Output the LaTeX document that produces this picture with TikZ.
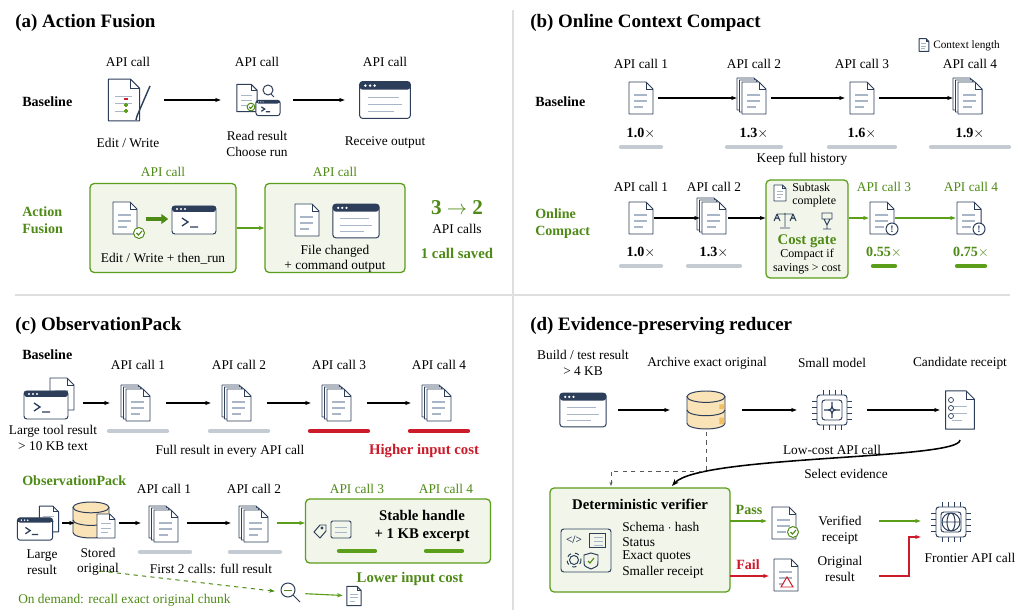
\documentclass[tikz,border=0pt]{standalone}
\usepackage{fontspec}
\setmainfont{Liberation Serif}
\usetikzlibrary{arrows.meta,shapes.geometric}
\definecolor{navy}{HTML}{2C3E5A}
\definecolor{gr}{HTML}{5A9E1A}
\definecolor{gt}{HTML}{4E8A16}
\definecolor{boxf}{HTML}{F2F6EA}
\definecolor{rd}{HTML}{CC1B2B}
\definecolor{bar}{HTML}{C5CBD3}
\definecolor{ln}{HTML}{A9B6C8}
\definecolor{dbf}{HTML}{FBE3B8}
\definecolor{dbo}{HTML}{F2BE62}
\tikzset{
 x=0.025cm,y=-0.025cm,
 t/.style={font=\fontsize{9.5}{11}\selectfont,align=center,inner sep=0},
 ttl/.style={font=\fontsize{13.5}{15}\selectfont\bfseries,anchor=west,inner sep=0},
 lab/.style={font=\fontsize{10}{12}\selectfont\bfseries,align=left,anchor=west,inner sep=0},
 ic/.style={minimum width=#1*0.7113pt,minimum height=21pt,inner sep=0},
 arr/.style={-{Stealth[length=4pt]},line width=0.8pt},
 garr/.style={arr,gr},
 rarr/.style={arr,rd},
 icon/.style={draw=navy,line width=0.7pt},
 barS/.style={line width=3pt,line cap=round},
 gbox/.style 2 args={draw=gr,fill=boxf,rounded corners=3pt,line width=0.9pt,minimum width=#1*0.7113pt,minimum height=#2*0.7113pt,inner sep=0},
 pics/doc/.style={code={
  \filldraw[icon,fill=white,line join=round] (-12,-16) -- (5,-16) -- (12,-9) -- (12,16) -- (-12,16) -- cycle;
  \draw[icon] (5,-16) -- (5,-9) -- (12,-9);
  \draw[ln,line width=0.8pt] (-7,-3)--(6,-3) (-7,3)--(6,3) (-7,9)--(2,9);}},
 pics/stack/.style={code={
  \pic at (-5,-4) {doc}; \pic at (-2.5,-2) {doc}; \pic at (0,0) {doc};}},
 pics/win/.style={code={
  \filldraw[icon,fill=white,rounded corners=2pt] (-22,-16) rectangle (22,16);
  \fill[navy,rounded corners=2pt] (-22,-16) rectangle (22,-9);
  \foreach \i in {-17,-13,-9}\fill[white] (\i,-12.5) circle (1.2);
  \draw[ln,line width=0.8pt] (-15,-2)--(12,-2) (-15,4)--(15,4) (-15,10)--(8,10);}},
 pics/term/.style={code={
  \filldraw[icon,fill=white,rounded corners=2pt] (-22,-14) rectangle (22,14);
  \fill[navy,rounded corners=2pt] (-22,-14) rectangle (22,-8);
  \foreach \i in {-17,-13,-9}\fill[white] (\i,-11) circle (1.1);
  \draw[navy,line width=0.9pt] (-12,-2)--(-6,2)--(-12,6) (-4,7)--(4,7);}},
 pics/db/.style={code={
  \filldraw[icon,fill=dbf] (-20,-14) -- (-20,14) arc[start angle=180,end angle=360,x radius=20,y radius=-6] -- (20,-14);
  \draw[icon] (-20,0) arc[start angle=180,end angle=360,x radius=20,y radius=-6];
  \filldraw[icon,fill=dbf] (0,-14) ellipse[x radius=20,y radius=6];
  \fill[dbo] (14,-6) rectangle (19,-1) (14,8) rectangle (19,15);}},
 pics/chip/.style={code={
  \foreach \i in {-9,-3,3,9}{\draw[icon] (\i,-20)--(\i,-15) (\i,15)--(\i,20) (-20,\i)--(-15,\i) (15,\i)--(20,\i);}
  \filldraw[icon,fill=white,rounded corners=2pt] (-15,-15) rectangle (15,15);
  \draw[icon,rounded corners=2pt] (-10,-10) rectangle (10,10);}},
 pics/chk/.style={code={\filldraw[draw=gt,fill=white,line width=0.7pt] (0,0) circle (5.5); \draw[gt,line width=0.8pt] (-2.5,0)--(-0.5,2)--(3,-2);}},
 pics/bang/.style={code={\filldraw[icon,fill=white] (0,0) circle (6); \node[font=\fontsize{7}{7}\selectfont\bfseries,text=navy,inner sep=0] at (0,0) {!};}},
}
\begin{document}
\begin{tikzpicture}
\useasboundingbox (0,0) rectangle (1028,616);
\fill[white] (0,0) rectangle (1028,616);
\draw[gray!25,line width=0.8pt] (15,295) -- (1010,295) (513,10) -- (513,610);

% ===== (a)
\node[ttl] (ta) at (15,23) {(a) Action Fusion};
\node[lab] (ab) at (22,102) {Baseline};
\foreach \x/\n in {128/1,257/2,385/3}{\node[t] (aapi\n) at (\x,62) {API call};}
\node[ic=72] (a1) at (128,100) {}; \pic[scale=1.3] at (124,100) {doc};
\draw[icon,line width=1pt] (137,116)--(150,86) (137,116)--(136,120); \draw[gr,line width=1pt] (124,105)--(128,105) (124,111)--(128,111) (126,103)--(126,107) (126,109)--(126,113); \draw[rd,line width=1pt] (124,99)--(128,99);
\node[ic=72] (a2) at (257,100) {}; \pic[scale=0.85] at (247,98) {doc}; \pic[scale=0.55] at (268,108) {term}; \draw[icon] (268,90) circle (5) (271,94)--(274,97); \pic[scale=0.7] at (251,107) {chk};
\node[ic=80] (a3) at (385,100) {}; \pic[scale=1.15] at (a3) {win};
\draw[arr] (a1) -- (a2); \draw[arr] (a2) -- (a3);
\node[t] at (128,143) {Edit / Write};
\node[t] at (257,144) {Read result\\Choose run};
\node[t] at (385,143) {Receive output};

\node[lab,text=gt] (af) at (22,220) {Action\\Fusion};
\node[gbox={146}{89}] (b1) at (163,228) {};
\node[gbox={140}{89}] (b2) at (335,228) {};
\node[t,text=gt] at (163,172) {API call}; \node[t,text=gt] at (335,172) {API call};
\draw[garr] (b1) -- (b2);
\pic at (125,218) {doc}; \pic at (139,233) {chk};
\node[ic=8] (fa) at (150,219) {}; \node[ic=8] (fb) at (164,219) {};
\draw[-{Triangle[length=5pt,width=7pt]},line width=2.2pt,gt] (fa.west) -- (fb.east);
\pic at (194,220) {term};
\pic at (307,220) {doc}; \pic[scale=1.05] at (356,221) {win};
\node[t] at (163,259) {Edit / Write + then\_run};
\node[t] at (335,259) {File changed\\+ command output};
\node[t,text=gt,font=\fontsize{15}{17}\selectfont\bfseries] at (457,208) {3 $\rightarrow$ 2};
\node[t] at (457,229) {API calls};
\node[t,text=gt,font=\fontsize{10.5}{12}\selectfont\bfseries] at (457,253) {1 call saved};

% ===== (b)
\node[ttl] (tb) at (530,23) {(b) Online Context Compact};
\pic[scale=0.4] at (924,45) {doc}; \node[t,anchor=west,font=\fontsize{8}{9}\selectfont] at (933,46) {Context length};
\node[lab] at (535,102) {Baseline};
\foreach \x/\n/\w/\s/\v in {641/1/20/doc/1.0,754/2/27/stack/1.3,862/3/33/doc/1.6,970/4/39/stack/1.9}{
 \node[t] at (\x,64) {API call \n};
 \node[ic=34] (bb\n) at (\x,98) {}; \pic at (bb\n) {\s};
 \node[t,font=\fontsize{10}{12}\selectfont\bfseries] at (\x,133) {\v$\times$};
 \draw[barS,bar] (\x-\w,147) -- (\x+\w,147);}
\draw[arr] (bb1) -- (bb2); \draw[arr] (bb2) -- (bb3); \draw[arr] (bb3) -- (bb4);
\node[t] at (802,159) {Keep full history};
\node[lab,text=gt] at (535,224) {Online\\Compact};
\node[t] at (641,187) {API call 1}; \node[t] at (714,187) {API call 2};
\node[ic=26] (c1) at (641,218) {}; \pic at (c1) {doc};
\node[ic=28] (c2) at (714,218) {}; \pic at (c2) {stack};
\node[t,font=\fontsize{10}{12}\selectfont\bfseries] at (641,252) {1.0$\times$};
\node[t,font=\fontsize{10}{12}\selectfont\bfseries] at (714,252) {1.3$\times$};
\draw[barS,bar] (621,266)--(661,266) (688,266)--(740,266);
\node[gbox={82}{98}] (cg) at (807,229) {};
\draw[arr] (c1) -- (c2); \draw[arr] (c2) -- (c2 -| cg.west);
\pic[scale=0.5] at (780,193) {doc};
\node[t,anchor=west,font=\fontsize{8.5}{9.5}\selectfont,align=left] at (792,195) {Subtask\\complete};
\draw[icon] (785,213)--(785,227) (777,214)--(793,214) (780,228)--(790,228) (777,214)--(774,221) (777,214)--(780,221) (793,214)--(790,221) (793,214)--(796,221) (774,221) arc[start angle=180,end angle=360,radius=3] (790,221) arc[start angle=180,end angle=360,radius=3];
\draw[icon] (822,213) rectangle (832,219) (824,219)--(827,225)--(830,219) (827,225)--(827,229) (823,229)--(831,229);
\node[t,text=gt,font=\fontsize{10.5}{12}\selectfont\bfseries] at (807,241) {Cost gate};
\node[t,font=\fontsize{8.5}{10}\selectfont] at (807,262) {Compact if\\savings > cost};
\node[t,text=gt] at (884,187) {API call 3}; \node[t,text=gt] at (971,187) {API call 4};
\node[ic=26] (c3) at (882,218) {}; \pic at (c3) {doc}; \pic at (892,229) {bang};
\node[ic=26] (c4) at (969,218) {}; \pic at (c4) {doc}; \pic at (979,229) {bang};
\draw[garr] (cg.east |- c3) -- (c3); \draw[garr] (c3) -- (c4);
\node[t,text=gt,font=\fontsize{10}{12}\selectfont\bfseries] at (884,252) {0.55$\times$};
\node[t,text=gt,font=\fontsize{10}{12}\selectfont\bfseries] at (971,252) {0.75$\times$};
\draw[barS,gr] (873,266)--(895,266) (957,266)--(985,266);

% ===== (c)
\node[ttl] (tc) at (15,326) {(c) ObservationPack};
\node[lab] at (22,355) {Baseline};
\node[ic=58] (l0) at (54,403) {}; \pic at (62,394) {doc}; \pic at (46,405) {term};
\node[t] at (53,438) {Large tool result\\> 10 KB text};
\foreach \x/\n/\c in {138/1/bar,239/2/bar,339/3/rd,439/4/rd}{
 \node[t] at (\x,365) {API call \n};
 \node[ic=56] (o\n) at (\x,403) {}; \pic at (\x,405) {stack};
 \draw[barS,\c] (\x-29,431) -- (\x+29,431);}
\draw[arr] (l0) -- (o1); \draw[arr] (o1) -- (o2); \draw[arr] (o2) -- (o3); \draw[arr] (o3) -- (o4);
\node[t] at (230,451) {Full result in every API call};
\node[t,text=rd,font=\fontsize{10.5}{12}\selectfont\bfseries] at (424,451) {Higher input cost};
\node[lab,text=gt] at (22,481) {ObservationPack};
\node[ic=40] (p0) at (42,523) {}; \pic[scale=0.8] at (49,519) {doc}; \pic[scale=0.8] at (35,529) {term};
\node[ic=44] (p1) at (97,523) {}; \pic[scale=0.9] at (91,520) {db}; \pic[scale=0.75] at (106,526) {doc};
\node[t] at (42,562) {Large\\result}; \node[t] at (98,562) {Stored\\original};
\node[t] at (164,489) {API call 1}; \node[t] at (254,489) {API call 2};
\node[ic=46] (p2) at (164,523) {}; \pic at (166,526) {stack};
\node[ic=46] (p3) at (254,523) {}; \pic at (256,526) {stack};
\draw[barS,bar] (140,552)--(190,552) (230,552)--(280,552);
\node[t] at (211,569) {First 2 calls: full result};
\node[gbox={185}{64}] (pk) at (398,531) {};
\draw[arr] (p0) -- (p1); \draw[arr] (p1) -- (p2); \draw[arr] (p2) -- (p3); \draw[garr] (p3) -- (p3 -| pk.west);
\node[t,text=gt] at (357,489) {API call 3}; \node[t,text=gt] at (446,489) {API call 4};
\draw[icon] (314,532)--(320,525)--(326,525)--(326,531)--(320,538)--cycle; \draw[icon] (322,528) circle (1);
\draw[icon,rounded corners=1pt] (331,521) rectangle (351,538); \draw[ln] (335,527)--(347,527) (335,532)--(347,532);
\node[t,font=\fontsize{10.5}{13}\selectfont\bfseries] at (422,526) {Stable handle\\+ 1 KB excerpt};
\draw[barS,gr] (339,551)--(375,551) (426,551)--(462,551);
\node[t,text=gt,font=\fontsize{10.5}{12}\selectfont\bfseries] at (410,579) {Lower input cost};
\node[ic=30] (mg) at (290,593) {};
\draw[icon] (288,590) circle (7) (293,595)--(300,602); \draw[gt] (284,590)--(292,590);
\node[ic=22] (rd0) at (354,596) {}; \pic[scale=0.6] at (rd0) {doc};
\coordinate (so) at (100,571);
\draw[gt,dashed,line width=0.7pt,-{Stealth[length=4pt]}] (so) -- (mg);
\draw[garr] (mg) -- (rd0);
\node[t,text=gt,anchor=west] at (18,600) {On demand: recall exact original chunk};

% ===== (d)
\node[ttl] (td) at (530,326) {(d) Evidence-preserving reducer};
\node[t] at (583,363) {Build / test result\\> 4 KB};
\node[t] at (707,363) {Archive exact original};
\node[t] at (832,363) {Small model};
\node[t] at (960,363) {Candidate receipt};
\node[ic=70] (d1) at (583,410) {}; \pic[scale=1.05] at (d1) {win};
\node[ic=72] (d2) at (706,410) {}; \pic[scale=0.95] at (d2) {db};
\node[ic=70] (d3) at (832,410) {}; \pic at (d3) {chip};
\draw[navy,line width=0.8pt] (832,402) .. controls (832,410) .. (840,410) .. controls (832,410) .. (832,418) .. controls (832,410) .. (824,410) .. controls (832,410) .. (832,402);
\node[ic=40] (d4) at (960,410) {}; \pic[scale=1.2] at (d4) {doc};
\foreach \yy in {400,408,416}{\draw[icon,line width=0.5pt] (951,\yy) circle (2.5);}
\draw[arr] (d1) -- (d2); \draw[arr] (d2) -- (d3); \draw[arr] (d3) -- (d4);
\node[t] at (832,450) {Low-cost API call};
\node[t] at (846,474) {Select evidence};
\node[gbox={180}{104}] (vf) at (640,540) {};
\draw[line width=1.1pt,-{Stealth[length=5pt]}] (960,440) .. controls (960,460) and (700,455) .. (672,486);
\draw[dashed,gray!70!black,line width=0.6pt,-{Stealth[length=3pt]}] (706,432) -- (706,471) -- (611,471) -- (611,486);
\node[t,font=\fontsize{10.5}{12}\selectfont\bfseries] at (640,504) {Deterministic verifier};
\draw[icon,rounded corners=2pt] (561,529) rectangle (611,572);
\node[t,text=navy,font=\fontsize{8}{8}\selectfont\bfseries] at (574,540) {</>};
\draw[icon] (589,533) rectangle (605,547); \draw[ln] (594,537)--(603,537) (594,541)--(603,541) (594,545)--(603,545);
\draw[icon] (574,560) circle (4.5); \draw[icon,dashed] (574,560) circle (7);
\draw[icon] (591,553) -- (598,555) -- (598,561) .. controls (598,566) .. (591,569) .. controls (584,566) .. (584,561) -- (584,555) -- cycle;
\draw[gt,line width=0.8pt] (588,561)--(590,563)--(594,558);
\node[t,anchor=west,align=left] at (622,527) {Schema $\cdot$ hash};
\node[t,anchor=west] at (622,542) {Status};
\node[t,anchor=west] at (622,557) {Exact quotes};
\node[t,anchor=west] at (622,572) {Smaller receipt};
\node[ic=34] (v1) at (784,521) {}; \pic at (784,523) {doc}; \pic at (793,532) {chk};
\node[ic=34] (v2) at (786,576) {}; \pic at (786,575) {doc};
\filldraw[draw=rd,fill=white,line width=0.7pt] (787,577)--(781,587)--(793,587)--cycle;
\coordinate (pa) at (730,521); \coordinate (fa2) at (730,576);
\draw[garr] (pa) -- (v1.west); \draw[rarr] (fa2) -- (v2.west);
\node[t,text=gt,font=\fontsize{10}{12}\selectfont\bfseries] at (749,510) {Pass};
\node[t,text=rd,font=\fontsize{10}{12}\selectfont\bfseries] at (748,565) {Fail};
\node[t] (vr) at (840,530) {Verified\\receipt};
\node[t] (orr) at (840,569) {Original\\result};
\node[ic=60] (fr) at (951,522) {}; \pic at (fr) {chip};
\draw[icon] (951,522) circle (9) (951,522) ellipse[x radius=4,y radius=9] (942,522)--(960,522);
\node[t] at (970,558) {Frontier API call};
\coordinate (g1) at (879,521); \coordinate (r1) at (879,576);
\draw[garr] (g1) -- (fr.west |- g1);
\draw[rarr] (r1) -- (909,576) -- (909,537) -- (fr.west |- 0,537);
\end{tikzpicture}
\end{document}
